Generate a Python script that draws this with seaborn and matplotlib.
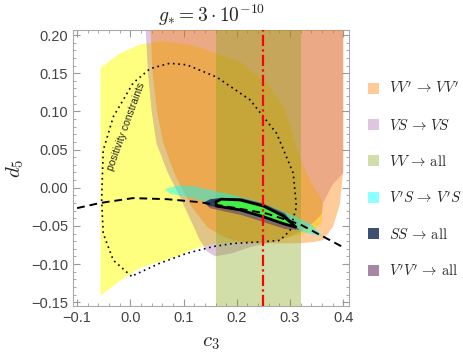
import matplotlib
matplotlib.use("Agg")
import matplotlib.pyplot as plt
from matplotlib.patches import Patch
import seaborn as sns
import pandas as pd

# region outlines, (c3, d5) in data units
yellow_c = [-0.056, -0.056, -0.02, 0.02, 0.065, 0.12, 0.17, 0.206, 0.26, 0.291, 0.322, 0.345, 0.36, 0.36,
            0.345, 0.328, 0.29, 0.243, 0.19, 0.159, 0.12, 0.084, 0.05, 0.018, -0.02, -0.055]
yellow_d = [-0.141, 0.157, 0.176, 0.188, 0.192, 0.186, 0.174, 0.165, 0.135, 0.102, 0.032, 0.0, -0.016, -0.045,
            -0.055, -0.060, -0.067, -0.071, -0.072, -0.073, -0.080, -0.0906, -0.098, -0.105, -0.122, -0.141]

orange_c = [0.037, 0.042, 0.050, 0.062, 0.085, 0.115, 0.145, 0.18, 0.22, 0.27, 0.319, 0.345, 0.362, 0.381,
            0.394, 0.40, 0.40]
orange_d = [0.22, 0.15, 0.10, 0.058, 0.015, -0.025, -0.052, -0.066, -0.072, -0.073, -0.0727, -0.071, -0.0687,
            -0.051, -0.0206, 0.023, 0.22]

lavender_c = [0.028, 0.033, 0.040, 0.049, 0.070, 0.095, 0.115, 0.13, 0.145, 0.16, 0.19, 0.224, 0.28, 0.32,
              0.345, 0.36, 0.362, 0.38, 0.40, 0.40]
lavender_d = [0.22, 0.15, 0.10, 0.058, 0.020, -0.015, -0.045, -0.068, -0.084, -0.090, -0.086, -0.078, -0.069,
              -0.058, -0.045, -0.034, -0.020, 0.004, 0.019, 0.22]

band_c = [0.16, 0.32]

cyan_c = [0.067, 0.09, 0.12, 0.15, 0.19, 0.23, 0.27, 0.31, 0.34, 0.362,
          0.345, 0.32, 0.29, 0.25, 0.21, 0.17, 0.13, 0.10, 0.075, 0.067]
cyan_d = [-0.001, 0.003, 0.002, -0.003, -0.009, -0.016, -0.026, -0.038, -0.048, -0.064,
          -0.062, -0.057, -0.050, -0.042, -0.034, -0.025, -0.016, -0.011, -0.008, -0.004]

mauve_c = [0.14, 0.16, 0.21, 0.25, 0.29, 0.318, 0.29, 0.25, 0.21, 0.17, 0.15]
mauve_d = [-0.021, -0.0145, -0.0135, -0.0205, -0.033, -0.0555, -0.054, -0.045, -0.036, -0.030, -0.027]

navy_c = [0.137, 0.15, 0.17, 0.21, 0.25, 0.29, 0.314, 0.29, 0.25, 0.21, 0.17, 0.148]
navy_d = [-0.0195, -0.015, -0.0135, -0.0145, -0.0215, -0.0345, -0.053, -0.049, -0.040, -0.031, -0.026, -0.024]

allowed_c = [0.161, 0.171, 0.206, 0.25, 0.287, 0.312, 0.287, 0.25, 0.206, 0.162]
allowed_d = [-0.0185, -0.015, -0.016, -0.024, -0.037, -0.052, -0.047, -0.038, -0.029, -0.024]

# positivity constraints loop
pos_c = [0.002, -0.032, -0.051, -0.054, -0.051, -0.032, 0.005, 0.037, 0.074, 0.106, 0.162, 0.225, 0.275,
         0.306, 0.312, 0.300, 0.281, 0.243, 0.193, 0.156, 0.106, 0.055, 0.002]
pos_d = [-0.116, -0.095, -0.060, -0.016, 0.049, 0.093, 0.137, 0.156, 0.163, 0.161, 0.145, 0.115, 0.071,
         0.019, -0.025, -0.056, -0.069, -0.071, -0.073, -0.077, -0.086, -0.099, -0.116]

# dashed reference curve
curve_c = [-0.10, -0.057, 0.005, 0.069, 0.131, 0.193, 0.257, 0.319, 0.40]
curve_d = [-0.0267, -0.020, -0.0136, -0.015, -0.019, -0.026, -0.034, -0.048, -0.078]

c3_line = 0.25

legend_labels = [r"$VV'\,\rightarrow\,VV'$", r"$VS\,\rightarrow\,VS$", r"$VV\,\rightarrow\,\mathrm{all}$",
                 r"$V'S\,\rightarrow\,V'S$", r"$SS\,\rightarrow\,\mathrm{all}$", r"$V'V'\,\rightarrow\,\mathrm{all}$"]
legend_colors = [((1.0, 0.5, 0.0), 0.4), ((0.6, 0.25, 0.6), 0.3), ((0.5, 0.63, 0.05), 0.35),
                 ((0.0, 1.0, 1.0), 0.45), ((0.1, 0.2, 0.35), 0.85), ((0.42, 0.22, 0.42), 0.6)]

sns.set_theme(style="ticks")
plt.rcParams["font.family"] = ["Liberation Sans", "DejaVu Sans"]
plt.rcParams["mathtext.fontset"] = "cm"

fig = plt.figure(figsize=(4.63, 3.53), dpi=100)
ax = fig.add_axes([0.158, 0.133, 0.596, 0.782])

ax.fill(yellow_c, yellow_d, color=(1.0, 1.0, 0.0), alpha=0.5, lw=0, zorder=1)
ax.fill(lavender_c, lavender_d, color=legend_colors[1][0], alpha=legend_colors[1][1], lw=0, zorder=2)
ax.fill(orange_c, orange_d, color=legend_colors[0][0], alpha=legend_colors[0][1], lw=0, zorder=3)
ax.axvspan(band_c[0], band_c[1], color=legend_colors[2][0], alpha=legend_colors[2][1], lw=0, zorder=4)
ax.fill(cyan_c, cyan_d, color=legend_colors[3][0], alpha=legend_colors[3][1], lw=0, zorder=5)
ax.fill(mauve_c, mauve_d, color=legend_colors[5][0], alpha=legend_colors[5][1], lw=0, zorder=6)
ax.fill(navy_c, navy_d, color=legend_colors[4][0], alpha=legend_colors[4][1], lw=0, zorder=7)
ax.fill(allowed_c, allowed_d, facecolor="#44EE44", edgecolor="black", lw=2, zorder=8)

pos_df = pd.DataFrame({"c3": pos_c, "d5": pos_d})
sns.lineplot(data=pos_df, x="c3", y="d5", sort=False, estimator=None, color="black", lw=1.2,
             linestyle=(0, (1, 2.2)), ax=ax, zorder=9)
curve_df = pd.DataFrame({"c3": curve_c, "d5": curve_d})
sns.lineplot(data=curve_df, x="c3", y="d5", sort=False, estimator=None, color="black", lw=1.4,
             linestyle=(0, (4, 2.5)), ax=ax, zorder=10)
ax.axvline(c3_line, color="red", lw=1.6, linestyle=(0, (5, 1.5, 1, 1.5)), zorder=11)

ax.text(-0.008, 0.08, "positivity constraints", rotation=70, fontsize=7.5, ha="center", va="center",
        rotation_mode="anchor", zorder=12)

ax.set_xlim(-0.1075, 0.411)
ax.set_ylim(-0.155, 0.2066)
ax.set_xticks([-0.1, 0.0, 0.1, 0.2, 0.3, 0.4])
ax.set_xticklabels(["\u22120.1", "0.0", "0.1", "0.2", "0.3", "0.4"])
ax.set_yticks([-0.15, -0.10, -0.05, 0.0, 0.05, 0.10, 0.15, 0.20])
ax.set_yticklabels(["\u22120.15", "\u22120.10", "\u22120.05", "0.00", "0.05", "0.10", "0.15", "0.20"])
ax.set_xticks([-0.1 + 0.02 * i for i in range(26)], minor=True)
ax.set_yticks([-0.15 + 0.01 * i for i in range(36)], minor=True)
ax.tick_params(which="both", direction="in", top=True, right=True, color="#999999", labelcolor="#444444",
               labelsize=10.5)
ax.tick_params(which="major", length=5, width=0.8)
ax.tick_params(which="minor", length=2.5, width=0.6)
for s in ax.spines.values():
    s.set_color("#AAAAAA")
    s.set_linewidth(0.8)

ax.set_xlabel(r"$c_3$", fontsize=15, labelpad=6)
ax.set_ylabel(r"$d_5$", fontsize=15, labelpad=4)
ax.set_title(r"$g_{*} = 3\cdot 10^{-10}$", fontsize=14, pad=6)

handles = [Patch(facecolor=c, alpha=a, edgecolor="none") for c, a in legend_colors]
fig.legend(handles, legend_labels, loc="upper left", bbox_to_anchor=(0.795, 0.772), frameon=False,
           fontsize=10.5, handlelength=0.75, handleheight=0.75, handletextpad=0.7, labelspacing=1.45,
           borderpad=0, borderaxespad=0)

fig.savefig("out.png", dpi=100)
